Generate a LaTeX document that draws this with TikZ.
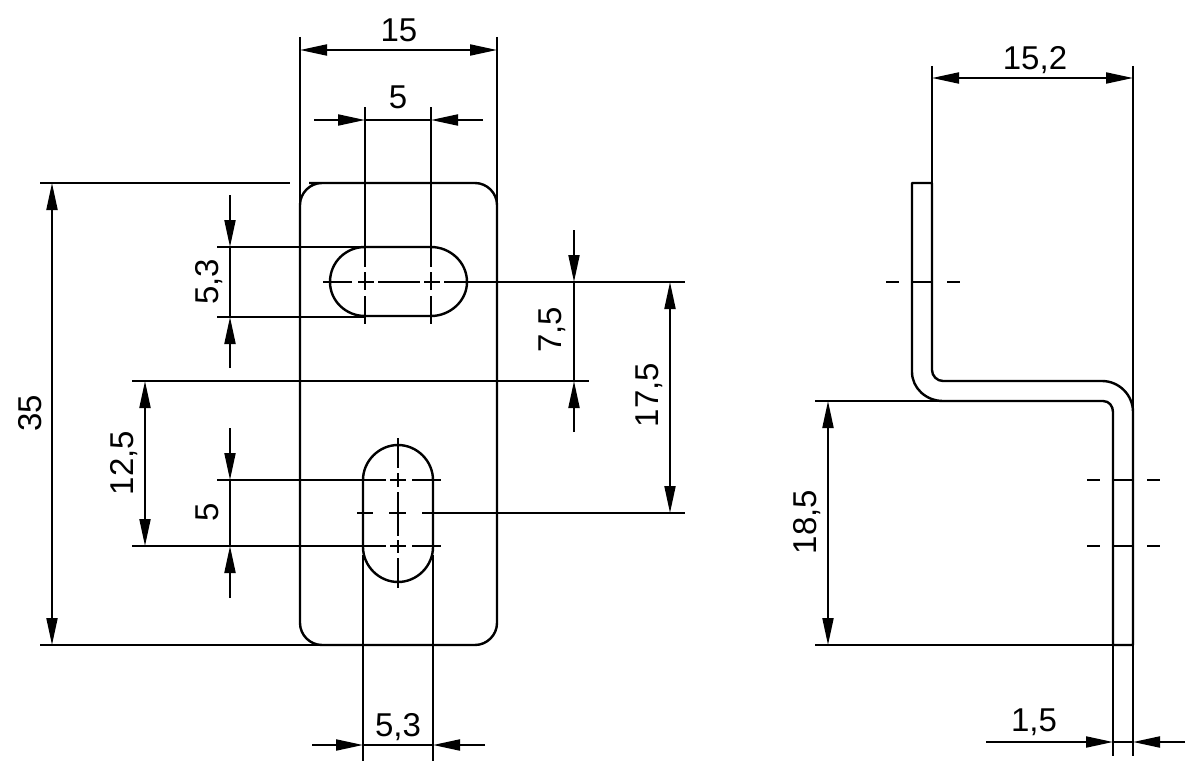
\documentclass[tikz,border=0pt]{standalone}
\usepackage{fontspec}
\setmainfont{Liberation Sans}
\usetikzlibrary{arrows.meta}
\tikzset{
  outline/.style={line width=2.4pt,line cap=butt,line join=round},
  thin line/.style={line width=2pt},
  center line/.style={line width=2.1pt},
  tip/.tip={Triangle[length=27pt,width=11pt]},
  both tips/.style={thin line,{tip}-{tip}},
  one tip/.style={thin line,-{tip}},
  dim/.style={font=\fontsize{33}{33}\selectfont,inner sep=0pt},
  dimv/.style={dim,rotate=90}
}
\begin{document}
\begin{tikzpicture}[x=1pt,y=-1pt]
\useasboundingbox (0,0) rectangle (1200,776);
% plate outline
\draw[outline] (309,183) -- (475,183) .. controls (487,183) and (497,193) .. (497,205) -- (497,623)
  .. controls (497,635) and (487,645) .. (475,645) -- (322,645)
  .. controls (310,645) and (300,635) .. (300,623) -- (300,205)
  .. controls (300,193) and (310,183) .. (322,183);
% slots
\draw[outline] (365,247) -- (431,247) .. controls (450,247) and (467,262) .. (467,282)
  .. controls (467,301) and (450,316) .. (431,316) -- (365,316)
  .. controls (346,316) and (330,301) .. (330,282) .. controls (330,262) and (346,247) .. (365,247);
\draw[outline] (363,480) .. controls (363,461) and (379,445) .. (398,445)
  .. controls (417,445) and (433,461) .. (433,480) -- (433,547)
  .. controls (433,566) and (417,582) .. (398,582) .. controls (379,582) and (363,566) .. (363,547) -- cycle;
% side view
\draw[outline] (932,183) -- (912,183) -- (912,372)
  .. controls (912,388) and (926,401) .. (943,401) -- (1103,401)
  .. controls (1109,401) and (1113,406) .. (1113,412) -- (1113,645) -- (1133,645) -- (1133,412)
  .. controls (1133,395) and (1119,381) .. (1102,381) -- (943,381)
  .. controls (937,381) and (932,376) .. (932,370) -- (932,183);
% named points
\coordinate (a15) at (300,50); \coordinate (b15) at (497,50);
\coordinate (t15a) at (300,37); \coordinate (t15b) at (497,37);
\coordinate (e15a) at (300,205); \coordinate (e15b) at (497,205);
\coordinate (a5s) at (314,120); \coordinate (a5t) at (365,120); \coordinate (b5t) at (431,120); \coordinate (b5s) at (483,120);
\coordinate (a35) at (52,183); \coordinate (b35) at (52,645);
\coordinate (e35a) at (40,183); \coordinate (e35ae) at (290,183);
\coordinate (e35b) at (40,645); \coordinate (e35be) at (322,645);
% dimension lines
\draw[both tips] (a15) -- (b15);
\draw[thin line] (t15a) -- (e15a); \draw[thin line] (t15b) -- (e15b);
\draw[one tip] (a5s) -- (a5t); \draw[one tip] (b5s) -- (b5t); \draw[thin line] (a5t) -- (b5t);
\draw[both tips] (a35) -- (b35);
\draw[thin line] (e35a) -- (e35ae); \draw[thin line] (e35b) -- (e35be);
% 5,3 vertical
\coordinate (p1) at (230,195); \coordinate (p2) at (230,247); \coordinate (p3) at (230,317); \coordinate (p4) at (230,368);
\draw[one tip] (p1) -- (p2); \draw[one tip] (p4) -- (p3); \draw[thin line] (p2) -- (p3);
\coordinate (p2s) at (217,247); \coordinate (p3s) at (217,317);
\coordinate (p2e) at (365,247); \coordinate (p3e) at (365,317);
\draw[thin line] (p2s) -- (p2e); \draw[thin line] (p3s) -- (p3e);
% 12,5
\coordinate (q1) at (145,381); \coordinate (q2) at (145,546);
\draw[both tips] (q1) -- (q2);
\coordinate (q1s) at (132,381); \coordinate (q1e) at (589,381);
\coordinate (q2s) at (132,546); \coordinate (q2e) at (386,546);
\draw[thin line] (q1s) -- (q1e); \draw[thin line] (q2s) -- (q2e);
% 5 vertical
\coordinate (r1) at (230,428); \coordinate (r2) at (230,480); \coordinate (r3) at (230,546); \coordinate (r4) at (230,598);
\draw[one tip] (r1) -- (r2); \draw[one tip] (r4) -- (r3); \draw[thin line] (r2) -- (r3);
\coordinate (r2s) at (217,480); \coordinate (r2e) at (386,480);
\draw[thin line] (r2s) -- (r2e);
% 7,5
\coordinate (s1) at (574,230); \coordinate (s2) at (574,282); \coordinate (s3) at (574,381); \coordinate (s4) at (574,432);
\draw[one tip] (s1) -- (s2); \draw[one tip] (s4) -- (s3); \draw[thin line] (s2) -- (s3);
% 17,5
\coordinate (u1) at (670,282); \coordinate (u2) at (670,513);
\draw[both tips] (u1) -- (u2);
\coordinate (u1s) at (444,282); \coordinate (u1e) at (685,282);
\coordinate (u2s) at (422,513); \coordinate (u2e) at (685,513);
\draw[thin line] (u1s) -- (u1e); \draw[thin line] (u2s) -- (u2e);
% 5,3 bottom
\coordinate (w1) at (312,745); \coordinate (w2) at (363,745); \coordinate (w3) at (433,745); \coordinate (w4) at (485,745);
\draw[one tip] (w1) -- (w2); \draw[one tip] (w4) -- (w3); \draw[thin line] (w2) -- (w3);
\coordinate (w2t) at (363,555); \coordinate (w2b) at (363,761); \coordinate (w3t) at (433,555); \coordinate (w3b) at (433,761);
\draw[thin line] (w2t) -- (w2b); \draw[thin line] (w3t) -- (w3b);
% centre line pieces: upper slot
\foreach \xa/\xb in {323/352,358/374,378/420,424/440} \draw[center line] (\xa,282) -- (\xb,282);
\foreach \x in {365,431} {
  \coordinate (ct) at (\x,107); \coordinate (cm) at (\x,267);
  \draw[thin line] (ct) -- (cm);
  \draw[center line] (\x,272) -- (\x,290);
  \draw[thin line] (\x,296) -- (\x,324);
}
% centre line pieces: lower slot
\foreach \ya/\yb in {438/468,473/487,492/536,540/553,558/588} \draw[center line] (398,\ya) -- (398,\yb);
\foreach \y in {480,546} {
  \draw[center line] (390,\y) -- (406,\y);
  \draw[center line] (412,\y) -- (441,\y);
}
\draw[center line] (357,513) -- (373,513);
\draw[center line] (389,513) -- (406,513);
% side view dims
\coordinate (x1) at (932,78); \coordinate (x2) at (1133,78);
\draw[both tips] (x1) -- (x2);
\coordinate (x1t) at (932,66); \coordinate (x1b) at (932,183);
\coordinate (x2t) at (1133,66); \coordinate (x2b) at (1133,412);
\draw[thin line] (x1t) -- (x1b); \draw[thin line] (x2t) -- (x2b);
\coordinate (y1) at (828,401); \coordinate (y2) at (828,645);
\draw[both tips] (y1) -- (y2);
\coordinate (y1s) at (815,401); \coordinate (y1e) at (943,401);
\coordinate (y2s) at (815,645); \coordinate (y2e) at (1113,645);
\draw[thin line] (y1s) -- (y1e); \draw[thin line] (y2s) -- (y2e);
\coordinate (z1) at (986,742); \coordinate (z2) at (1113,742); \coordinate (z3) at (1133,742); \coordinate (z4) at (1185,742);
\draw[one tip] (z1) -- (z2); \draw[one tip] (z4) -- (z3); \draw[thin line] (z2) -- (z3);
\coordinate (z2t) at (1113,645); \coordinate (z2b) at (1113,756);
\coordinate (z3t) at (1133,645); \coordinate (z3b) at (1133,756);
\draw[thin line] (z2t) -- (z2b); \draw[thin line] (z3t) -- (z3b);
% side centre marks
\draw[center line] (886,282) -- (899,282);
\draw[center line] (912,282) -- (932,282);
\draw[center line] (947,282) -- (960,282);
\foreach \y in {480,546} {
  \draw[center line] (1087,\y) -- (1100,\y);
  \draw[center line] (1113,\y) -- (1133,\y);
  \draw[center line] (1147,\y) -- (1160,\y);
}
% labels
\node[dim] (l15) at (399,30) {15};
\node[dim] (l5t) at (398,97.5) {5};
\node[dimv] (l35) at (30,413) {35};
\node[dimv] (l53v) at (209.5,282) {5,3};
\node[dimv] (l125) at (124.5,463) {12,5};
\node[dimv] (l5v) at (207,512) {5};
\node[dimv] (l75) at (552.5,330) {7,5};
\node[dimv] (l175) at (649.5,395) {17,5};
\node[dim] (l53b) at (398,727) {5,3};
\node[dim] (l152) at (1035,60.5) {15,2};
\node[dimv] (l185) at (807.5,522) {18,5};
\node[dim] (l15s) at (1034,722) {1,5};
\end{tikzpicture}
\end{document}
